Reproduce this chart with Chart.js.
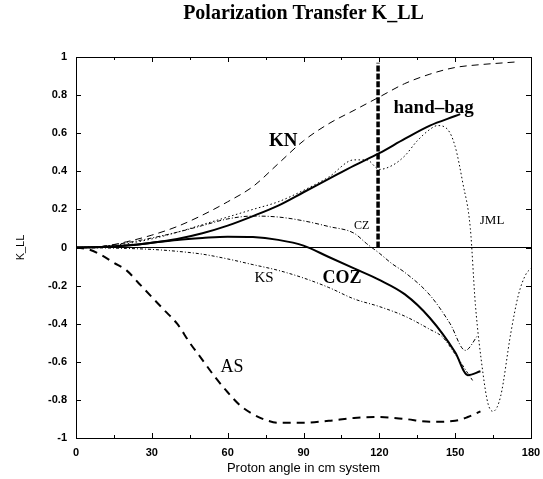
<!DOCTYPE html>
<html>
<head>
<meta charset="utf-8">
<script src="https://cdn.jsdelivr.net/npm/chart.js@4/dist/chart.umd.min.js"></script>
<style>
  html, body { margin: 0; padding: 0; background: #fff; }
</style>
</head>
<body>
<canvas id="chart" width="543" height="479"></canvas>
<script>
// curves: angle (deg, cm system) and K_LL
var knAngle = [0, 10, 20, 30, 40, 50, 60, 70, 80, 90, 100, 110, 120, 130, 140, 150, 160, 170, 175];
var knValue = [0, 0.005, 0.03, 0.065, 0.11, 0.17, 0.24, 0.32, 0.44, 0.56, 0.65, 0.72, 0.79, 0.86, 0.91, 0.945, 0.96, 0.97, 0.975];

var handbagAngle = [0, 10, 20, 30, 40, 50, 60, 70, 80, 90, 100, 110, 120, 130, 140, 150, 152];
var handbagValue = [0, 0.002, 0.01, 0.025, 0.045, 0.075, 0.115, 0.165, 0.22, 0.29, 0.36, 0.43, 0.495, 0.57, 0.64, 0.69, 0.7];

var jmlAngle = [0, 10, 20, 30, 40, 50, 60, 70, 80, 90, 100, 110, 115, 120, 125, 130, 135, 140, 143, 147, 150, 153, 156, 158, 161, 163, 165, 168, 172, 175, 178, 180];
var jmlValue = [0, 0.005, 0.02, 0.045, 0.08, 0.12, 0.16, 0.2, 0.24, 0.3, 0.37, 0.46, 0.46, 0.41, 0.43, 0.48, 0.56, 0.62, 0.64, 0.62, 0.53, 0.34, 0.1, -0.3, -0.66, -0.82, -0.86, -0.78, -0.45, -0.25, -0.14, -0.11];

var czAngle = [0, 10, 20, 30, 40, 50, 60, 70, 80, 90, 100, 110, 115, 120, 125, 130, 140, 148, 154, 159];
var czValue = [0, 0.005, 0.025, 0.05, 0.08, 0.115, 0.15, 0.165, 0.16, 0.14, 0.11, 0.075, 0.02, -0.03, -0.085, -0.13, -0.25, -0.4, -0.54, -0.46];

var cozAngle = [0, 10, 20, 30, 40, 50, 60, 70, 80, 90, 100, 110, 120, 130, 140, 150, 155, 160];
var cozValue = [0, 0.003, 0.01, 0.025, 0.04, 0.05, 0.057, 0.055, 0.04, 0.01, -0.05, -0.11, -0.17, -0.245, -0.37, -0.55, -0.67, -0.65];

var ksAngle = [0, 20, 30, 40, 50, 60, 70, 80, 90, 100, 110, 120, 130, 140, 145, 150, 155, 157];
var ksValue = [0, -0.005, -0.01, -0.02, -0.035, -0.06, -0.09, -0.12, -0.16, -0.21, -0.27, -0.31, -0.36, -0.43, -0.47, -0.56, -0.66, -0.7];

var asAngle = [0, 5, 10, 15, 20, 25, 30, 35, 40, 45, 50, 55, 60, 65, 70, 75, 80, 90, 100, 110, 120, 130, 140, 150, 155, 160];
var asValue = [0, -0.01, -0.04, -0.08, -0.12, -0.19, -0.26, -0.33, -0.4, -0.5, -0.59, -0.68, -0.76, -0.83, -0.875, -0.905, -0.92, -0.92, -0.91, -0.895, -0.89, -0.9, -0.915, -0.91, -0.89, -0.86];

var cutAngle = [119.5, 119.5];
var cutValue = [0, 0.97];

var xTicks = [0, 30, 60, 90, 120, 150, 180];

// curve names written on the plot, placed in data coordinates
var labelText = ['KN', 'hand\u2013bag', 'JML', 'CZ', 'KS', 'COZ', 'AS'];
var labelAngle = [82, 141.5, 164.6, 113, 74.4, 105.2, 61.7];
var labelValue = [0.56, 0.73, 0.14, 0.116, -0.163, -0.163, -0.63];
var labelFont = [
    'bold 19px "Liberation Serif"', 'bold 19px "Liberation Serif"', '13px "Liberation Serif"',
    '12px "Liberation Serif"', '15px "Liberation Serif"', 'bold 18px "Liberation Serif"', '18px "Liberation Serif"'
];

function points(xs, ys) {
    var out = [];
    for (var i = 0; i < xs.length; i++) {
        out.push({ x: xs[i], y: ys[i] });
    }
    return out;
}

function curve(xs, ys, width, dash) {
    return {
        data: points(xs, ys),
        borderColor: '#000',
        borderWidth: width,
        borderDash: dash,
        pointRadius: 0,
        fill: false,
        cubicInterpolationMode: 'monotone'
    };
}

// frame with inward ticks on all four sides, plus the curve names
var framePlugin = {
    id: 'frame',
    afterDraw: function(chart) {
        var ctx = chart.ctx, a = chart.chartArea;
        var xs = chart.scales.x, ys = chart.scales.y;
        ctx.save();
        ctx.strokeStyle = '#000';
        ctx.lineWidth = 1;
        ctx.strokeRect(a.left + 0.5, a.top + 0.5, a.right - a.left, a.bottom - a.top);
        ctx.beginPath();
        for (var d = 0; d <= 180; d += 15) {
            var px = Math.round(xs.getPixelForValue(d)) + 0.5;
            var len = d % 30 === 0 ? 5 : 3;
            ctx.moveTo(px, a.bottom); ctx.lineTo(px, a.bottom - len);
            ctx.moveTo(px, a.top); ctx.lineTo(px, a.top + len);
        }
        for (var v = -10; v <= 10; v += 2) {
            var py = Math.round(ys.getPixelForValue(v / 10)) + 0.5;
            ctx.moveTo(a.left, py); ctx.lineTo(a.left + 5, py);
            ctx.moveTo(a.right, py); ctx.lineTo(a.right - 5, py);
        }
        ctx.stroke();
        ctx.restore();
    },
    afterDatasetsDraw: function(chart) {
        var ctx = chart.ctx;
        var xs = chart.scales.x, ys = chart.scales.y;
        ctx.save();
        ctx.fillStyle = '#000';
        ctx.textAlign = 'center';
        ctx.textBaseline = 'middle';
        for (var i = 0; i < labelText.length; i++) {
            ctx.font = labelFont[i];
            ctx.fillText(labelText[i], xs.getPixelForValue(labelAngle[i]), ys.getPixelForValue(labelValue[i]));
        }
        ctx.restore();
    }
};

var chart = new Chart(document.getElementById('chart').getContext('2d'), {
    type: 'line',
    data: {
        datasets: [
            curve(knAngle, knValue, 1, [7, 5]),
            curve(handbagAngle, handbagValue, 2, []),
            curve(jmlAngle, jmlValue, 1, [1.5, 2.5]),
            curve(czAngle, czValue, 1, [4, 2, 1, 2]),
            curve(cozAngle, cozValue, 2, []),
            curve(ksAngle, ksValue, 1, [3, 2, 1, 2]),
            curve(asAngle, asValue, 2, [8, 6]),
            curve(cutAngle, cutValue, 3.5, [6, 2])
        ]
    },
    options: {
        responsive: false,
        animation: false,
        layout: { padding: { left: 0, right: 12, top: 0, bottom: 0 } },
        plugins: {
            legend: { display: false },
            tooltip: { enabled: false },
            title: {
                display: true,
                fullSize: false,
                text: 'Polarization Transfer K_LL',
                color: '#000',
                font: { family: 'Liberation Serif', size: 20, weight: 'bold' },
                padding: { top: 2, bottom: 31 }
            }
        },
        scales: {
            x: {
                type: 'linear',
                min: 0,
                max: 180,
                afterBuildTicks: function(scale) {
                    scale.ticks = xTicks.map(function(v) { return { value: v }; });
                },
                afterFit: function(scale) {
                    scale.height = 41;
                    scale.paddingLeft = 0;
                    scale.paddingRight = 0;
                },
                grid: { display: false, drawTicks: false },
                border: { display: false },
                ticks: {
                    color: '#000',
                    padding: 8,
                    maxRotation: 0,
                    font: { family: 'Liberation Sans', size: 11, weight: 'bold' }
                },
                title: {
                    display: true,
                    text: 'Proton angle in cm system',
                    color: '#000',
                    font: { family: 'Liberation Sans', size: 13 },
                    padding: { top: 0, bottom: 3 }
                }
            },
            y: {
                min: -1,
                max: 1,
                afterFit: function(scale) { scale.width = 76; },
                grid: {
                    drawTicks: false,
                    color: function(c) { return c.tick && c.tick.value === 0 ? '#000' : 'rgba(0,0,0,0)'; }
                },
                border: { display: false },
                ticks: {
                    stepSize: 0.2,
                    color: '#000',
                    padding: 9,
                    font: { family: 'Liberation Sans', size: 11, weight: 'bold' },
                    callback: function(v) { return String(Math.round(v * 10) / 10); }
                },
                title: {
                    display: true,
                    text: 'K_LL',
                    color: '#000',
                    font: { family: 'Liberation Sans', size: 11 },
                    padding: { top: 14, bottom: 0 }
                }
            }
        }
    },
    plugins: [framePlugin]
});
</script>
</body>
</html>
